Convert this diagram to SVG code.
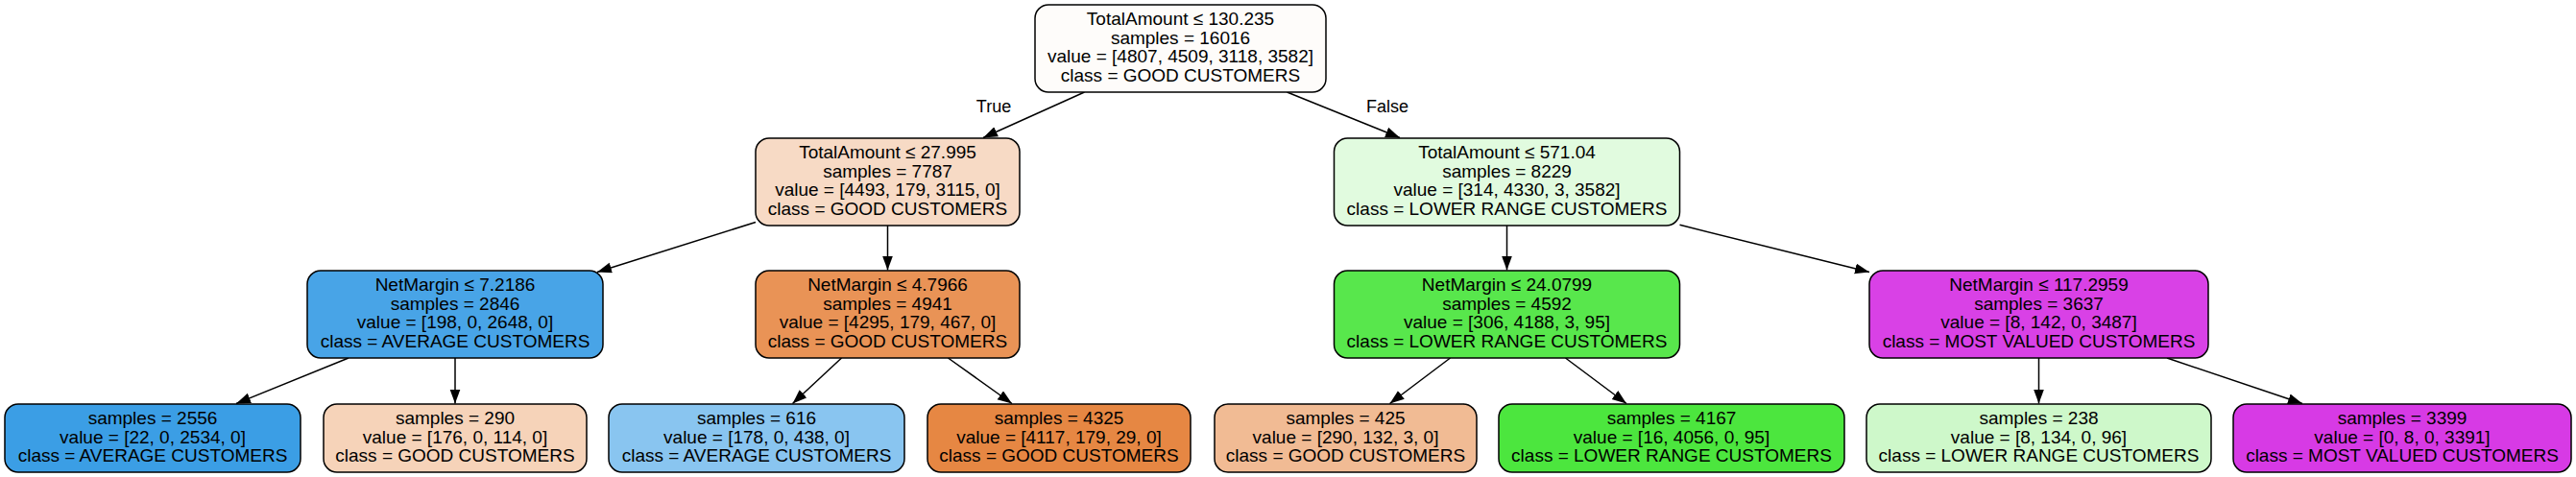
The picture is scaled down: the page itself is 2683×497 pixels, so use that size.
<svg xmlns="http://www.w3.org/2000/svg" width="2683" height="497" viewBox="0 0 2683 497">
<style>
.box{stroke:#000;stroke-width:1.5}
text{font-family:"Liberation Sans",Arial,sans-serif;font-size:19px;fill:#000;text-anchor:middle}
.lbl{font-size:18px}
.edge{stroke:#000;stroke-width:1.5;fill:none;marker-end:url(#arr)}
</style>
<defs>
<marker id="arr" markerUnits="userSpaceOnUse" markerWidth="16" markerHeight="12" refX="15" refY="5.5" orient="auto">
<path d="M0,0 L15,5.5 L0,11 Z" fill="#000"/>
</marker>
</defs>
<rect width="2683" height="497" fill="#fff"/>
<g id="connectors">
<line class="edge" x1="1129.5" y1="96" x2="1024" y2="143.5"/>
<line class="edge" x1="1340.5" y1="96" x2="1458" y2="143.5"/>
<line class="edge" x1="787" y1="231.5" x2="622" y2="283.5"/>
<line class="edge" x1="924.5" y1="235" x2="924.5" y2="281.5"/>
<line class="edge" x1="1569.5" y1="235" x2="1569.5" y2="281.5"/>
<line class="edge" x1="1749.5" y1="234.3" x2="1947" y2="283.6"/>
<line class="edge" x1="363" y1="373" x2="246" y2="420.5"/>
<line class="edge" x1="474" y1="373" x2="474" y2="420.5"/>
<line class="edge" x1="876.5" y1="373" x2="825.5" y2="420.5"/>
<line class="edge" x1="987.5" y1="373" x2="1054" y2="420.5"/>
<line class="edge" x1="1510.5" y1="373" x2="1447.5" y2="420.5"/>
<line class="edge" x1="1630.5" y1="373" x2="1694" y2="420.5"/>
<line class="edge" x1="2123.5" y1="373" x2="2123.5" y2="420.5"/>
<line class="edge" x1="2257" y1="373" x2="2398" y2="420.5"/>
<text class="lbl" x="1035" y="117">True</text>
<text class="lbl" x="1445" y="117">False</text>
</g>
<g id="n0">
<rect class="box" x="1078" y="5" width="303" height="91" rx="14" fill="#fefcfa"/>
<text x="1229.5" y="26">TotalAmount ≤ 130.235</text>
<text x="1229.5" y="45.5">samples = 16016</text>
<text x="1229.5" y="65">value = [4807, 4509, 3118, 3582]</text>
<text x="1229.5" y="84.5">class = GOOD CUSTOMERS</text>
</g>
<g id="n1">
<rect class="box" x="787" y="144" width="275" height="91" rx="14" fill="#f7dac5"/>
<text x="924.5" y="165">TotalAmount ≤ 27.995</text>
<text x="924.5" y="184.5">samples = 7787</text>
<text x="924.5" y="204">value = [4493, 179, 3115, 0]</text>
<text x="924.5" y="223.5">class = GOOD CUSTOMERS</text>
</g>
<g id="n8">
<rect class="box" x="1389.5" y="144" width="360" height="91" rx="14" fill="#e1fbdf"/>
<text x="1569.5" y="165">TotalAmount ≤ 571.04</text>
<text x="1569.5" y="184.5">samples = 8229</text>
<text x="1569.5" y="204">value = [314, 4330, 3, 3582]</text>
<text x="1569.5" y="223.5">class = LOWER RANGE CUSTOMERS</text>
</g>
<g id="n2">
<rect class="box" x="320" y="282" width="308" height="91" rx="14" fill="#48a4e7"/>
<text x="474" y="303">NetMargin ≤ 7.2186</text>
<text x="474" y="322.5">samples = 2846</text>
<text x="474" y="342">value = [198, 0, 2648, 0]</text>
<text x="474" y="361.5">class = AVERAGE CUSTOMERS</text>
</g>
<g id="n5">
<rect class="box" x="787" y="282" width="275" height="91" rx="14" fill="#e99356"/>
<text x="924.5" y="303">NetMargin ≤ 4.7966</text>
<text x="924.5" y="322.5">samples = 4941</text>
<text x="924.5" y="342">value = [4295, 179, 467, 0]</text>
<text x="924.5" y="361.5">class = GOOD CUSTOMERS</text>
</g>
<g id="n9">
<rect class="box" x="1389.5" y="282" width="360" height="91" rx="14" fill="#58e74c"/>
<text x="1569.5" y="303">NetMargin ≤ 24.0799</text>
<text x="1569.5" y="322.5">samples = 4592</text>
<text x="1569.5" y="342">value = [306, 4188, 3, 95]</text>
<text x="1569.5" y="361.5">class = LOWER RANGE CUSTOMERS</text>
</g>
<g id="n12">
<rect class="box" x="1947" y="282" width="353" height="91" rx="14" fill="#d941e6"/>
<text x="2123.5" y="303">NetMargin ≤ 117.2959</text>
<text x="2123.5" y="322.5">samples = 3637</text>
<text x="2123.5" y="342">value = [8, 142, 0, 3487]</text>
<text x="2123.5" y="361.5">class = MOST VALUED CUSTOMERS</text>
</g>
<g id="n3">
<rect class="box" x="5" y="421" width="308" height="71" rx="14" fill="#3b9ee5"/>
<text x="159" y="442">samples = 2556</text>
<text x="159" y="461.5">value = [22, 0, 2534, 0]</text>
<text x="159" y="481">class = AVERAGE CUSTOMERS</text>
</g>
<g id="n4">
<rect class="box" x="337" y="421" width="274" height="71" rx="14" fill="#f6d3b9"/>
<text x="474" y="442">samples = 290</text>
<text x="474" y="461.5">value = [176, 0, 114, 0]</text>
<text x="474" y="481">class = GOOD CUSTOMERS</text>
</g>
<g id="n6">
<rect class="box" x="634" y="421" width="308" height="71" rx="14" fill="#89c5f0"/>
<text x="788" y="442">samples = 616</text>
<text x="788" y="461.5">value = [178, 0, 438, 0]</text>
<text x="788" y="481">class = AVERAGE CUSTOMERS</text>
</g>
<g id="n7">
<rect class="box" x="966" y="421" width="274" height="71" rx="14" fill="#e68743"/>
<text x="1103" y="442">samples = 4325</text>
<text x="1103" y="461.5">value = [4117, 179, 29, 0]</text>
<text x="1103" y="481">class = GOOD CUSTOMERS</text>
</g>
<g id="n10">
<rect class="box" x="1265" y="421" width="273" height="71" rx="14" fill="#f1bb94"/>
<text x="1401.5" y="442">samples = 425</text>
<text x="1401.5" y="461.5">value = [290, 132, 3, 0]</text>
<text x="1401.5" y="481">class = GOOD CUSTOMERS</text>
</g>
<g id="n11">
<rect class="box" x="1561" y="421" width="360" height="71" rx="14" fill="#4ce63e"/>
<text x="1741" y="442">samples = 4167</text>
<text x="1741" y="461.5">value = [16, 4056, 0, 95]</text>
<text x="1741" y="481">class = LOWER RANGE CUSTOMERS</text>
</g>
<g id="n13">
<rect class="box" x="1944" y="421" width="359" height="71" rx="14" fill="#cef8ca"/>
<text x="2123.5" y="442">samples = 238</text>
<text x="2123.5" y="461.5">value = [8, 134, 0, 96]</text>
<text x="2123.5" y="481">class = LOWER RANGE CUSTOMERS</text>
</g>
<g id="n14">
<rect class="box" x="2326" y="421" width="352" height="71" rx="14" fill="#d73ae5"/>
<text x="2502" y="442">samples = 3399</text>
<text x="2502" y="461.5">value = [0, 8, 0, 3391]</text>
<text x="2502" y="481">class = MOST VALUED CUSTOMERS</text>
</g>
</svg>
